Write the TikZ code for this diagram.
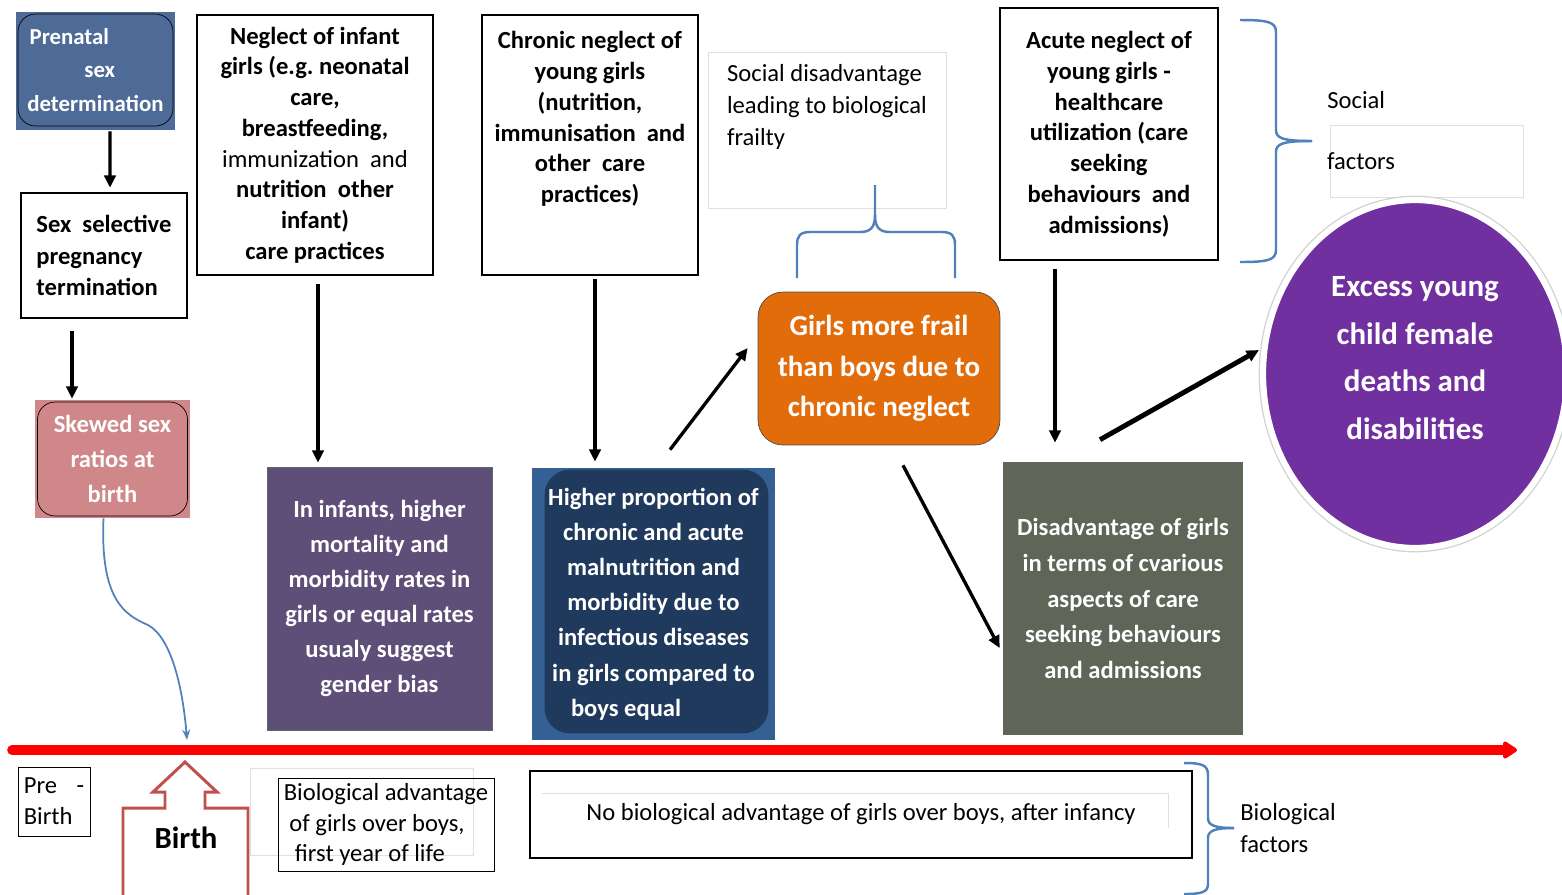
\documentclass[tikz,border=0pt]{standalone}
\usepackage{fontspec}
\setmainfont{Carlito}
\usetikzlibrary{arrows.meta,shapes.geometric}
\pgfdeclarelayer{bg}
\pgfsetlayers{bg,main}
\definecolor{preblue}{RGB}{78,107,151}
\definecolor{skewpink}{RGB}{207,135,138}
\definecolor{infpurple}{RGB}{94,79,120}
\definecolor{higblue}{RGB}{52,96,148}
\definecolor{higdark}{RGB}{32,58,94}
\definecolor{frailorange}{RGB}{227,108,10}
\definecolor{disgray}{RGB}{95,102,88}
\definecolor{excpurple}{RGB}{112,48,160}
\definecolor{bracec}{RGB}{79,129,189}
\definecolor{birthred}{RGB}{192,80,77}
\tikzset{
    bbox/.style={rectangle, draw, line width=1.5pt, inner sep=0pt, align=center,
        font=\bfseries\fontsize{14}{17.5}\selectfont},
    fbox/.style={rectangle, inner sep=0pt, align=center, text=white,
        font=\bfseries\fontsize{14}{20}\selectfont},
    tbox/.style={rectangle, draw, thin, inner sep=0pt, align=left,
        font=\fontsize{14}{17.6}\selectfont},
    faintbox/.style={rectangle, draw=gray!25, thin, inner sep=0pt},
    btxt/.style={inner sep=0pt, align=center, font=\bfseries\fontsize{14}{17.5}\selectfont},
    rtxt/.style={inner sep=0pt, align=left, font=\fontsize{14}{18.4}\selectfont},
    arr/.style={-{Triangle[length=7pt,width=6.5pt]}, line width=1.9pt},
    brace/.style={draw=bracec, line width=1.4pt},
    timeline/.style={red, line width=5.5pt, line cap=round, -{Triangle[round,length=9pt,width=11pt]}}
}
\begin{document}
\begin{tikzpicture}[x=0.02cm, y=-0.02cm]
        \useasboundingbox (0,0) rectangle (1562,894);
        % top row
        \node (pre) [fbox, draw=black, thin, rounded corners=10pt, align=left, minimum width=3.1cm, minimum height=2.24cm,
            font=\bfseries\fontsize{13}{19}\selectfont] at (95.5,70) {\hspace{0.1em}Prenatal\\\hspace{2.5em}sex\\determination};
        \node (sel) [bbox, align=left, minimum width=3.32cm, minimum height=2.5cm,
            font=\bfseries\fontsize{14}{17.8}\selectfont] at (104,255.5) {Sex\ \ selective\\pregnancy\\termination};
        \node (skew) [fbox, draw=black, thin, rounded corners=10pt, minimum width=3.0cm, minimum height=2.28cm]
            at (112.5,459) {Skewed sex\\ratios at\\birth};
        \node (inf) [bbox, minimum width=4.72cm, minimum height=5.2cm] at (315,145)
            {Neglect of infant\\girls (e.g.\ neonatal\\care,\\breastfeeding,\\{\mdseries immunization\ \ and}\\nutrition\ \ other\\infant)\\care practices};
        \node (chr) [bbox, minimum width=4.32cm, minimum height=5.2cm,
            label={[btxt, yshift=0.52cm]center:{Chronic neglect of\\young girls\\(nutrition,\\immunisation\ \ and\\other\ \ care\\practices)}}] at (590,145) {};
        \node (soc) [faintbox, minimum width=4.76cm, minimum height=3.12cm,
            label={[rtxt, yshift=0.46cm]center:{Social disadvantage\\leading to biological\\frailty}}] at (827,130) {};
        \node (acu) [bbox, minimum width=4.36cm, minimum height=5.04cm] at (1109,134)
            {Acute neglect of\\young girls -\\healthcare\\utilization (care\\seeking\\behaviours\ \ and\\admissions)};
        \node (soct) [rtxt, anchor=west] at (1327,100) {Social};
        \node (sfb) [faintbox, minimum width=3.86cm, minimum height=1.44cm,
            label={[rtxt, anchor=west, label distance=0.06cm]west:factors}] at (1426.5,161) {};
        % middle row
        \node (frail) [fbox, fill=frailorange, draw=black!70, thin, rounded corners=0.5cm, minimum width=4.84cm, minimum height=3.06cm,
            font=\bfseries\fontsize{16.5}{23.2}\selectfont] at (879,368.5) {Girls more frail\\than boys due to\\chronic neglect};
        \node (infb) [fbox, fill=infpurple, draw=black!60, thin, minimum width=4.5cm, minimum height=5.26cm] at (379.5,598.5)
            {In infants, higher\\mortality and\\morbidity rates in\\girls or equal rates\\usualy suggest\\gender bias};
        \node (hig) [fbox, minimum width=4.86cm, minimum height=5.44cm] at (653.5,604)
            {Higher proportion of\\chronic and acute\\malnutrition and\\morbidity due to\\infectious diseases\\in girls compared to\\\makebox[3.3cm][l]{boys equal}};
        \node (dis) [fbox, fill=disgray, minimum width=4.8cm, minimum height=5.46cm,
            font=\bfseries\fontsize{14}{20.4}\selectfont] at (1123,598.5)
            {Disadvantage of girls\\in terms of cvarious\\aspects of care\\seeking behaviours\\and admissions};
        \node (exc) [ellipse, fill=excpurple, preaction={draw=gray!35, line width=5pt}, draw=white, line width=3.5pt,
            minimum width=6.08cm, minimum height=6.96cm,
            label={[btxt, text=white, yshift=0.32cm, font=\bfseries\fontsize{17.6}{27.2}\selectfont]center:{Excess young\\child female\\deaths and\\disabilities}}]
            at (1415,374) {};
        % bottom row
        \node (prb) [tbox, minimum width=1.44cm, minimum height=1.38cm] at (54,801.5) {Pre\hspace{0.8em}-\\Birth};
        \node (birth) [font=\bfseries\fontsize{17.5}{20}\selectfont, inner sep=0pt] at (186,838) {Birth};
        \node (biof) [faintbox, minimum width=4.46cm, minimum height=1.74cm] at (361.5,811.5) {};
        \node (bio) [tbox, minimum width=4.32cm, minimum height=1.86cm] at (386,824.5)
            {Biological advantage\\\ of girls over boys,\\\ \ first year of life};
        \node (nob) [tbox, line width=0.8pt, align=center, minimum width=13.24cm, minimum height=1.74cm] at (861,814.5)
            {No biological advantage of girls over boys, after infancy};
        \node (biot) [rtxt, anchor=west, font=\fontsize{14}{18.7}\selectfont] at (1240,828) {Biological\\factors};
        \coordinate (tl0) at (12,750);
        \coordinate (tl1) at (1517,750);
        \coordinate (bt) at (187,740);
        \begin{pgfonlayer}{bg}
                \fill[preblue] ([shift={(-2,-2)}]pre.north west) rectangle ([shift={(2,4)}]pre.south east);
                \fill[skewpink] ([shift={(-2.5,-2)}]skew.north west) rectangle ([shift={(2.5,2)}]skew.south east);
                \fill[higblue] (hig.north west) rectangle (hig.south east);
                \fill[higdark, rounded corners=0.5cm] ([shift={(13,2)}]hig.north west) rectangle ([shift={(-7,-7)}]hig.south east);
                \draw[arr] ([shift={(14.5,5)}]pre.south) -- ([shift={(6,-4)}]sel.north);
                \draw[arr] ([shift={(-32,12)}]sel.south) -- ([shift={(-40.5,-3)}]skew.north);
                \draw[arr] ([shift={(3,8)}]inf.south) -- ([shift={(-61.5,-4)}]infb.north);
                \draw[arr] ([shift={(5,3)}]chr.south) -- ([shift={(-58.5,-6)}]hig.north);
                \draw[arr] ([shift={(16.5,-18)}]hig.north) -- ([shift={(-10,-20.5)}]frail.west);
                \draw[arr] ([shift={(24,20)}]frail.south) -- ([shift={(-3,49.5)}]dis.west);
                \draw[arr] ([shift={(-54,8)}]acu.south) -- ([shift={(-68,-19)}]dis.north);
                \draw[arr, line width=2.8pt] ([shift={(-23,-22)}]dis.north) -- ([shift={(-1,-24)}]exc.west);
                \draw[bracec, line width=1pt, -{Stealth[length=6pt]}] ([shift={(-9,2)}]skew.south)
                    .. controls (100,600) and (125,615) .. (148,625) .. controls (172,638) and (183,690) .. (bt);
        \end{pgfonlayer}
        % faint lines
        \draw[gray!25, thin] (542,793) -- (1168,793) -- (1168,828);
        % time line and birth
        \draw[timeline] (tl0) -- (tl1);
        \draw[birthred, line width=1.7pt] (123,896) -- (123,808) -- (165,808) -- (165,792) -- (153,792) -- (185,762)
            -- (217,792) -- (205,792) -- (205,808) -- (248,808) -- (248,896);
        % braces
        \draw[brace] (797,278) -- (797,245) .. controls (797,236) and (800,232) .. (810,232) -- (860,232)
            .. controls (870,232) and (875,228) .. (875,215) -- (875,185);
        \draw[brace] (875,215) .. controls (875,228) and (880,232) .. (890,232) -- (942,232)
            .. controls (952,232) and (955,236) .. (955,245) -- (955,278);
        \draw[brace] (1240,20) .. controls (1268,20) and (1276,22) .. (1276,32) -- (1276,130)
            .. controls (1276,138) and (1282,141) .. (1312,141);
        \draw[brace] (1312,141) .. controls (1282,141) and (1276,144) .. (1276,152) -- (1276,250)
            .. controls (1276,260) and (1268,262) .. (1240,262);
        \draw[brace] (1184,763) .. controls (1202,763) and (1208,765) .. (1208,775) -- (1208,818)
            .. controls (1208,825) and (1214,828) .. (1234,828);
        \draw[brace] (1234,828) .. controls (1214,828) and (1208,831) .. (1208,838) -- (1208,884)
            .. controls (1208,892) and (1202,894) .. (1184,894);
\end{tikzpicture}
\end{document}
